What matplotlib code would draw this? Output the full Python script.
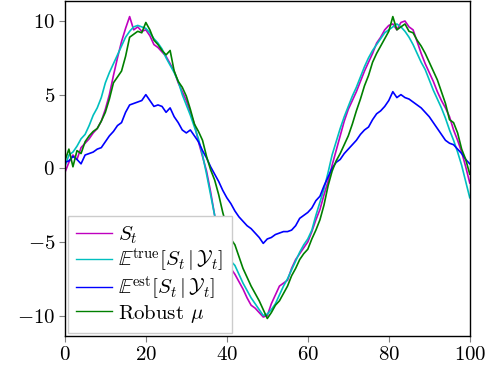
import matplotlib
matplotlib.use("Agg")
from matplotlib import pyplot as plt
import numpy as np

plt.rcParams['font.family'] = 'serif'
plt.rcParams['font.serif'] = ['cmr10']
plt.rcParams['mathtext.fontset'] = 'cm'
plt.rcParams['axes.formatter.use_mathtext'] = True
plt.rcParams['font.size'] = 15

t = np.arange(0, 101)

s_true = [-0.3, 0.4, 0.9, 0.6, 1.4, 1.7, 2.0, 2.4, 2.7, 3.2,
          4.0, 5.0, 6.3, 7.5, 8.6, 9.5, 10.3, 9.4, 9.6, 9.3,
          9.4, 9.0, 8.4, 8.2, 7.9, 7.6, 7.1, 6.6, 5.8, 5.2,
          4.6, 3.8, 3.0, 1.8, 0.8, -0.2, -1.6, -3.2, -4.5, -5.6,
          -6.3, -6.8, -7.2, -7.7, -8.2, -8.8, -9.3, -9.5, -9.8, -10.1,
          -10.0, -9.2, -8.6, -8.0, -7.8, -7.6, -6.8, -6.2, -5.8, -5.4,
          -5.0, -4.3, -3.5, -2.8, -1.8, -0.9, 0.2, 1.2, 2.2, 3.2,
          4.0, 4.6, 5.2, 5.9, 6.6, 7.2, 7.8, 8.5, 8.9, 9.4,
          9.7, 9.8, 9.4, 9.9, 10.0, 9.6, 9.4, 8.6, 7.8, 7.1,
          6.5, 5.9, 5.2, 4.6, 4.1, 3.5, 2.6, 1.9, 1.1, 0.1,
          -1.0]

e_true = [0.1, 0.9, 1.1, 1.5, 2.0, 2.3, 2.9, 3.6, 4.1, 4.8,
          5.8, 6.5, 7.1, 7.7, 8.3, 8.9, 9.3, 9.6, 9.7, 9.6,
          9.5, 9.2, 8.8, 8.5, 8.1, 7.5, 7.0, 6.5, 5.9, 5.0,
          4.3, 3.6, 2.8, 2.0, 0.9, -0.4, -1.8, -3.2, -4.4, -5.3,
          -5.9, -6.3, -6.6, -7.2, -7.8, -8.3, -8.8, -9.2, -9.6, -10.0,
          -9.9, -9.6, -9.2, -8.6, -8.0, -7.5, -6.9, -6.3, -5.7, -5.2,
          -4.8, -4.2, -3.2, -2.3, -1.4, -0.3, 0.9, 1.8, 2.7, 3.5,
          4.2, 4.9, 5.5, 6.2, 6.9, 7.5, 8.0, 8.4, 8.8, 9.2,
          9.4, 9.6, 9.8, 9.6, 9.3, 8.9, 8.4, 7.8, 7.2, 6.7,
          6.0, 5.3, 4.7, 4.1, 3.4, 2.6, 1.9, 1.1, 0.2, -0.9,
          -2.0]

e_est = [0.4, 0.5, 0.8, 0.6, 0.3, 0.9, 1.0, 1.1, 1.3, 1.4,
         1.8, 2.2, 2.5, 2.9, 3.1, 3.8, 4.3, 4.4, 4.5, 4.6,
         5.0, 4.6, 4.2, 4.3, 4.2, 3.8, 4.1, 3.5, 3.1, 2.6,
         2.4, 2.6, 2.2, 1.8, 1.2, 0.7, 0.1, -0.4, -0.9, -1.5,
         -2.0, -2.4, -2.9, -3.3, -3.6, -3.9, -4.1, -4.4, -4.7, -5.1,
         -4.8, -4.7, -4.5, -4.4, -4.3, -4.3, -4.2, -3.9, -3.4, -3.2,
         -3.0, -2.7, -2.2, -1.9, -1.2, -0.6, 0.0, 0.4, 0.6, 1.0,
         1.3, 1.6, 1.9, 2.3, 2.6, 2.8, 3.3, 3.7, 3.9, 4.2,
         4.6, 5.2, 4.8, 5.0, 4.8, 4.7, 4.5, 4.3, 4.1, 3.8,
         3.5, 3.1, 2.7, 2.3, 1.9, 1.7, 1.6, 1.3, 1.0, 0.6,
         0.3]

robust_mu = [0.5, 1.3, 0.1, 1.2, 1.0, 1.8, 2.2, 2.5, 2.7, 3.2,
             3.8, 4.7, 5.8, 6.2, 6.6, 7.6, 8.9, 9.1, 9.3, 9.2,
             9.9, 9.4, 8.7, 8.4, 8.0, 7.7, 8.0, 6.6, 5.9, 5.5,
             4.9, 4.0, 3.0, 2.5, 1.9, 0.8, -0.1, -0.8, -1.8, -3.0,
             -4.0, -4.8, -5.2, -6.0, -6.8, -7.4, -8.0, -8.5, -9.0, -9.6,
             -10.2, -9.8, -9.3, -9.0, -8.5, -8.0, -7.3, -6.8, -6.2, -5.8,
             -5.5, -4.8, -4.2, -3.5, -2.5, -1.2, -0.2, 0.5, 1.0, 1.6,
             2.2, 3.0, 3.9, 4.7, 5.6, 6.3, 7.2, 7.8, 8.3, 8.8,
             9.3, 10.3, 9.4, 9.6, 9.8, 9.3, 9.2, 8.7, 8.3, 7.8,
             7.2, 6.6, 6.0, 5.2, 4.4, 3.3, 3.1, 2.4, 1.3, 0.6,
             -0.4]

labels = [r'$S_t$',
          r'$\mathbb{E}^{\mathrm{true}}[S_t\,|\,\mathcal{Y}_t]$',
          r'$\mathbb{E}^{\mathrm{est}}[S_t\,|\,\mathcal{Y}_t]$',
          r'Robust $\mu$']

fig = plt.figure(figsize=(4.95, 3.76), dpi=100)
ax = fig.add_axes([0.131, 0.106, 0.818, 0.891])

ax.plot(t, s_true, color='m', linewidth=1.2, label=labels[0])
ax.plot(t, e_true, color='c', linewidth=1.2, label=labels[1])
ax.plot(t, e_est, color='b', linewidth=1.2, label=labels[2])
ax.plot(t, robust_mu, color='g', linewidth=1.2, label=labels[3])

ax.set_xlim(0, 100)
ax.set_ylim(-11.4, 11.35)
ax.set_xticks([0, 20, 40, 60, 80, 100])
ax.set_yticks([-10, -5, 0, 5, 10])
ax.tick_params(direction='out', length=4, width=0.8, color='#808080', pad=3)
for sp in ax.spines.values():
    sp.set_linewidth(1.0)

leg = ax.legend(loc='lower left', frameon=True, fancybox=False, edgecolor='#cccccc',
                framealpha=1.0, borderaxespad=0.15, handlelength=1.7,
                handletextpad=0.3, labelspacing=0.02, borderpad=0.4)
for h in leg.get_lines():
    h.set_linewidth(1.0)

fig.savefig('out.png', dpi=100)
